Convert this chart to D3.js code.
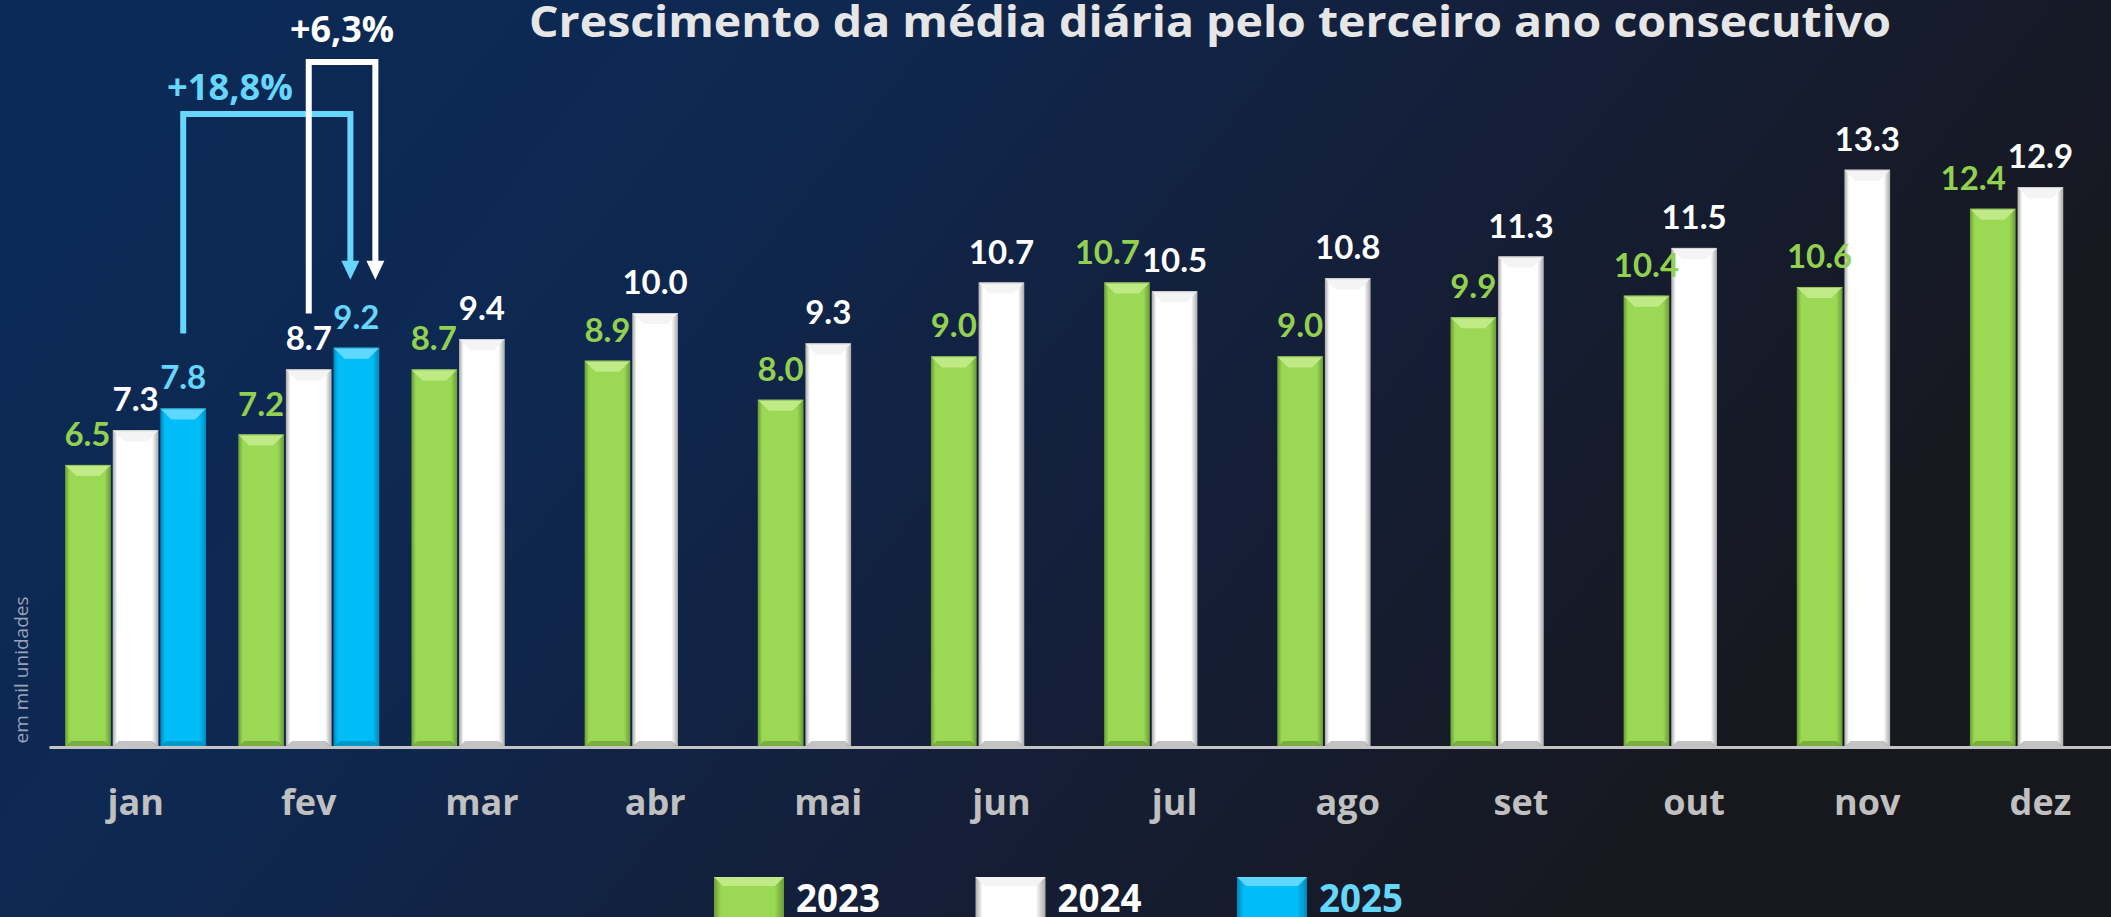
<!DOCTYPE html>
<html>
<head>
<meta charset="utf-8">
<script src="https://cdn.jsdelivr.net/npm/d3@7"></script>
<style>
  html, body { margin: 0; padding: 0; background: #0f1f3c; overflow: hidden; }
</style>
</head>
<body>
<script>
// data (thousand units / day)
const months = ["jan", "fev", "mar", "abr", "mai", "jun", "jul", "ago", "set", "out", "nov", "dez"];
const years = ["2023", "2024", "2025"];
const v2023 = [6.5, 7.2, 8.7, 8.9, 8.0, 9.0, 10.7, 9.0, 9.9, 10.4, 10.6, 12.4];
const v2024 = [7.3, 8.7, 9.4, 10.0, 9.3, 10.7, 10.5, 10.8, 11.3, 11.5, 13.3, 12.9];
const v2025 = [7.8, 9.2];
const growthJan = "+18,8%";   // jan 2025 -> fev 2025
const growthFev = "+6,3%";    // fev 2024 -> fev 2025

const title = "Crescimento da média diária pelo terceiro ano consecutivo";
const yTitle = "em mil unidades";

const width = 2111, height = 917;
const baseY = 747;

const colors = {
  "2023": { main: "#9bd955", light: "#bfea86", dark: "#6a9c36", text: "#92d050", legend: "#ffffff" },
  "2024": { main: "#ffffff", light: "#f4f4f4", dark: "#a9a9a9", text: "#ffffff", legend: "#ffffff" },
  "2025": { main: "#00bdf8", light: "#5fd8ff", dark: "#0087b8", text: "#66d6fb", legend: "#66d6fb" }
};

const series = { "2023": v2023, "2024": v2024, "2025": v2025 };
const rows = [];
months.forEach((m, i) => {
  years.forEach(yr => {
    const v = series[yr][i];
    if (v !== undefined) rows.push({ month: m, year: yr, value: v });
  });
});

const svg = d3.select("body").append("svg")
    .attr("width", width)
    .attr("height", height)
    .style("display", "block");

const defs = svg.append("defs");

// background gradient
const bg = defs.append("linearGradient").attr("id", "bg")
    .attr("x1", 0).attr("y1", 0).attr("x2", 1).attr("y2", 0.35);
bg.append("stop").attr("offset", 0).attr("stop-color", "#0a2b57");
bg.append("stop").attr("offset", 0.35).attr("stop-color", "#0e2851");
bg.append("stop").attr("offset", 0.65).attr("stop-color", "#141f3a");
bg.append("stop").attr("offset", 1).attr("stop-color", "#17181e");

years.forEach(yr => {
  const c = colors[yr];
  const g = defs.append("linearGradient").attr("id", "bar" + yr)
      .attr("x1", 0).attr("y1", 0).attr("x2", 1).attr("y2", 0);
  g.append("stop").attr("offset", 0).attr("stop-color", c.dark);
  g.append("stop").attr("offset", 0.1).attr("stop-color", c.main);
  g.append("stop").attr("offset", 0.86).attr("stop-color", c.main);
  g.append("stop").attr("offset", 1).attr("stop-color", c.dark);
});

svg.append("rect")
    .attr("width", width)
    .attr("height", height)
    .attr("fill", "url(#bg)");

// scales
const x0 = d3.scaleBand()
    .domain(months)
    .range([49, 2127])
    .paddingInner(0.186)
    .paddingOuter(0.093);

const x1 = d3.scaleBand()
    .domain(years)
    .range([0, x0.bandwidth()])
    .paddingInner(0.04);

const y = d3.scaleLinear()
    .domain([0, 14])
    .range([baseY, baseY - 14 * 43.4]);

// bars with bevel look
const bars = svg.append("g")
  .selectAll("g")
  .data(rows)
  .join("g")
    .attr("transform", d => `translate(${x0(d.month) + x1(d.year)},0)`);

const bw = x1.bandwidth();

bars.append("rect")
    .attr("x", 0)
    .attr("y", d => y(d.value))
    .attr("width", bw)
    .attr("height", d => y(0) - y(d.value))
    .attr("fill", d => `url(#bar${d.year})`);

bars.append("path")
    .attr("fill", d => colors[d.year].light)
    .attr("d", d => {
      const t = y(d.value), b = 11;
      return `M0,${t}L${bw},${t}L${bw - b},${t + b}L${b},${t + b}Z`;
    });

bars.append("path")
    .attr("fill", d => colors[d.year].dark)
    .attr("opacity", 0.7)
    .attr("d", d => {
      const t = y(0), b = 6;
      return `M0,${t}L${bw},${t}L${bw - b},${t - b}L${b},${t - b}Z`;
    });

bars.append("line")
    .attr("x1", 1).attr("x2", bw - 1)
    .attr("y1", d => y(d.value) + 0.5)
    .attr("y2", d => y(d.value) + 0.5)
    .attr("stroke", d => colors[d.year].dark)
    .attr("stroke-opacity", 0.5);

// axis
const xAxis = svg.append("g")
    .attr("transform", `translate(0,${baseY})`)
    .call(d3.axisBottom(x0).tickSize(0).tickSizeOuter(0).tickPadding(42));

xAxis.select(".domain")
    .attr("stroke", "#c4c4c4")
    .attr("stroke-width", 3);

xAxis.selectAll("text")
    .attr("fill", "#c0c0c0")
    .style("font", "bold 36px 'Open Sans', sans-serif");

// value labels
const labels = svg.append("g")
    .style("font", "bold 33px Lato, sans-serif")
    .attr("text-anchor", "middle")
  .selectAll("text")
  .data(rows)
  .join("text")
    .attr("x", d => x0(d.month) + x1(d.year) + bw / 2)
    .attr("y", d => y(d.value) - 19)
    .attr("fill", d => colors[d.year].text)
    .text(d => d3.format(".1f")(d.value));

// push a 2023 label left when it runs into the 2024 label next to it
labels.filter(d => d.year === "2023").each(function(d) {
  const other = labels.filter(o => o.month === d.month && o.year === "2024").node();
  if (!other) return;
  const a = this.getBBox(), b = other.getBBox();
  const overlapX = a.x + a.width + 2 - b.x;
  const overlapY = Math.min(a.y + a.height, b.y + b.height) - Math.max(a.y, b.y);
  if (overlapX > 0 && overlapY > 4) {
    d3.select(this).attr("x", +d3.select(this).attr("x") - overlapX);
  }
});

// growth arrows
const cx = (m, yr) => x0(m) + x1(yr) + bw / 2;
function arrow(pts, color, tipX, tipY) {
  svg.append("path")
      .attr("d", d3.line()(pts))
      .attr("fill", "none")
      .attr("stroke", color)
      .attr("stroke-width", 6);
  svg.append("path")
      .attr("d", `M${tipX - 9},${tipY - 19}L${tipX + 9},${tipY - 19}L${tipX},${tipY}Z`)
      .attr("fill", color);
}

const tipY = y(9.2) - 68;
const cyanStart = cx("jan", "2025"), cyanEnd = cx("fev", "2025") - 6;
const whiteStart = cx("fev", "2024"), whiteEnd = cx("fev", "2025") + 19;
const cyanTop = 114, whiteTop = 62;

arrow([[cyanStart, y(7.8) - 75], [cyanStart, cyanTop], [cyanEnd, cyanTop], [cyanEnd, tipY - 18]],
      "#66d6fb", cyanEnd, tipY);
arrow([[whiteStart, y(8.7) - 56], [whiteStart, whiteTop], [whiteEnd, whiteTop], [whiteEnd, tipY - 18]],
      "#ffffff", whiteEnd, tipY);

svg.append("text")
    .attr("x", 230).attr("y", cyanTop - 14)
    .attr("text-anchor", "middle")
    .attr("fill", "#66d6fb")
    .style("font", "bold 36px 'Open Sans', sans-serif")
    .attr("textLength", 126).attr("lengthAdjust", "spacingAndGlyphs")
    .text(growthJan);

svg.append("text")
    .attr("x", (whiteStart + whiteEnd) / 2).attr("y", whiteTop - 20)
    .attr("text-anchor", "middle")
    .attr("fill", "#ffffff")
    .style("font", "bold 35px 'Open Sans', sans-serif")
    .attr("textLength", 104).attr("lengthAdjust", "spacingAndGlyphs")
    .text(growthFev);

// title
svg.append("text")
    .attr("x", 1210).attr("y", 37)
    .attr("text-anchor", "middle")
    .attr("fill", "#e6e6e6")
    .style("font", "bold 43px 'Open Sans', sans-serif")
    .attr("textLength", 1362).attr("lengthAdjust", "spacingAndGlyphs")
    .text(title);

// y axis unit
svg.append("text")
    .attr("transform", "translate(28,670) rotate(-90)")
    .attr("text-anchor", "middle")
    .attr("fill", "#9aa4b6")
    .style("font", "19px 'Open Sans', sans-serif")
    .text(yTitle);

// legend
const legend = svg.append("g")
  .selectAll("g")
  .data(years)
  .join("g")
    .attr("transform", (d, i) => `translate(${714 + i * 261.5},877)`);

legend.append("rect")
    .attr("width", 70).attr("height", 40)
    .attr("fill", d => `url(#bar${d})`);

legend.append("path")
    .attr("fill", d => colors[d].light)
    .attr("d", "M0,0L70,0L61,9L9,9Z");

legend.append("text")
    .attr("x", 82).attr("y", 35)
    .attr("fill", d => colors[d].legend)
    .style("font", "bold 40px 'Open Sans', sans-serif")
    .attr("textLength", 84).attr("lengthAdjust", "spacingAndGlyphs")
    .text(d => d);
</script>
</body>
</html>
